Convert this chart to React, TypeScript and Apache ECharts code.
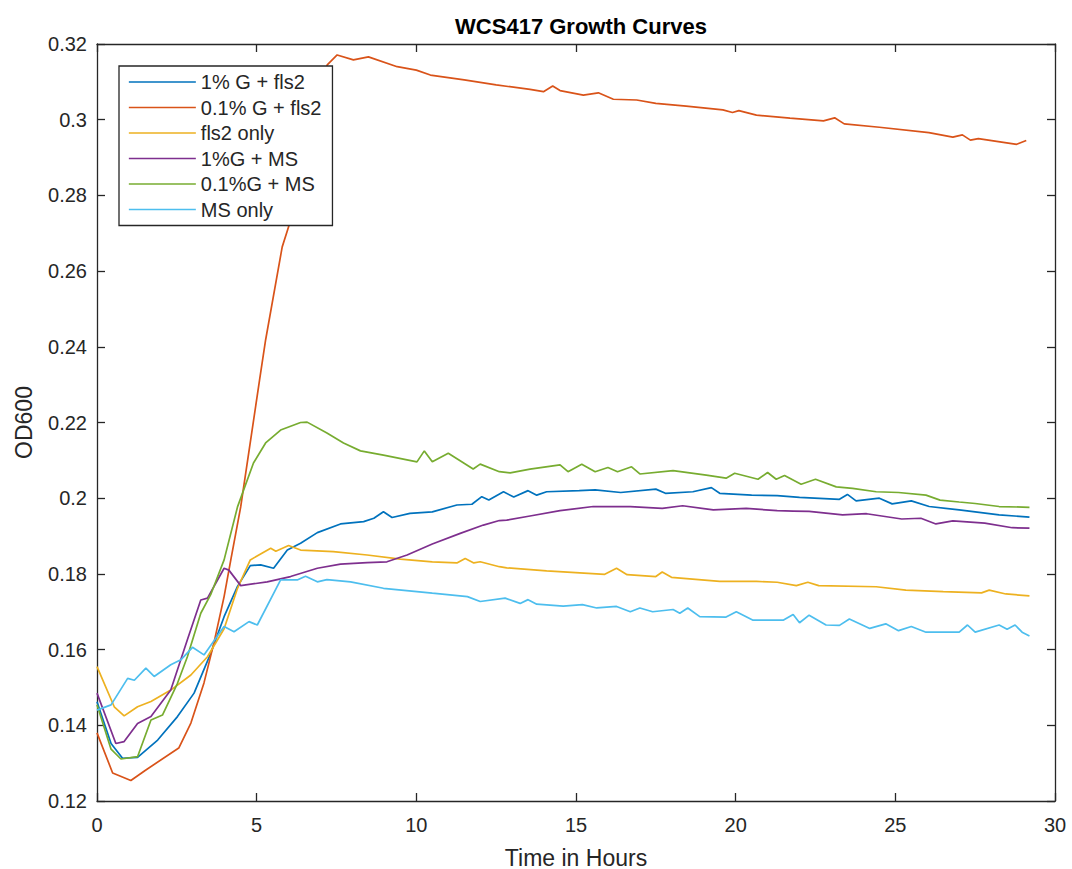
import React, { useEffect, useRef } from "react";
import * as echarts from "echarts";

const SERIES_NAMES = ["1% G + fls2", "0.1% G + fls2", "fls2 only", "1%G + MS", "0.1%G + MS", "MS only"];
const COLORS = ["#0072BD", "#D95319", "#EDB120", "#7E2F8E", "#77AC30", "#4DBEEE"];

const X_MIN = 0, X_MAX = 30, X_STEP = 5;
const Y_MIN = 0.12, Y_MAX = 0.32, Y_STEP = 0.02;

const g1Fls2: [number, number][] = [
  [0, 0.1462], [0.44, 0.1352], [0.8, 0.1313], [1.27, 0.1315], [1.9, 0.1361], [2.52, 0.1423], [3.04, 0.1485],
  [3.56, 0.159], [3.98, 0.1687], [4.4, 0.1767], [4.8, 0.1822], [5.125, 0.1824], [5.53, 0.1815], [5.96, 0.1863],
  [6.375, 0.1881], [6.9, 0.1909], [7.625, 0.1932], [8.35, 0.1938], [8.67, 0.1947], [8.97, 0.1964], [9.24, 0.1949],
  [9.8, 0.196], [10.5, 0.1964], [11.27, 0.1982], [11.74, 0.1984], [12.05, 0.2004], [12.27, 0.1995], [12.73, 0.2017],
  [13.05, 0.2003], [13.5, 0.202], [13.77, 0.2008], [14.08, 0.2017], [15.1, 0.202], [15.6, 0.2022], [16.4, 0.2015],
  [17.5, 0.2024], [17.8, 0.2013], [18.66, 0.2017], [19.24, 0.2028], [19.5, 0.2013], [20.5, 0.2008], [21.3, 0.2007],
  [22.0, 0.2002], [23.25, 0.1997], [23.5, 0.201], [23.77, 0.1993], [24.5, 0.2], [24.9, 0.1985], [25.5, 0.1993],
  [26.06, 0.1978], [27, 0.1969], [28.25, 0.1956], [29.2, 0.195],
];

const g01Fls2: [number, number][] = [
  [0, 0.138], [0.49, 0.1274], [1.06, 0.1254], [1.53, 0.1282], [2.56, 0.134], [2.94, 0.1406], [3.35, 0.1512],
  [3.66, 0.1617], [3.98, 0.174], [4.19, 0.1837], [4.5, 0.1977], [5.09, 0.2312], [5.28, 0.2418], [5.8, 0.2664],
  [6.0, 0.2717], [6.5, 0.292], [7.0, 0.308], [7.21, 0.3145], [7.52, 0.3171], [8.03, 0.3158], [8.5, 0.3166],
  [9.4, 0.314], [10.0, 0.3131], [10.44, 0.3118], [11.5, 0.3105], [12.5, 0.3092], [13.56, 0.308], [13.98, 0.3074],
  [14.27, 0.3089], [14.5, 0.3077], [15.23, 0.3065], [15.7, 0.3071], [16.17, 0.3054], [16.9, 0.3052], [17.5, 0.3043],
  [18.45, 0.3036], [19.6, 0.3026], [19.9, 0.3019], [20.1, 0.3024], [20.65, 0.3012], [21.7, 0.3004], [22.75, 0.2997],
  [23.1, 0.3005], [23.4, 0.2989], [24.5, 0.298], [26.05, 0.2966], [26.8, 0.2954], [27.1, 0.296], [27.35, 0.2946],
  [27.6, 0.295], [28.8, 0.2935], [29.1, 0.2945],
];

const fls2Only: [number, number][] = [
  [0, 0.1555], [0.54, 0.1449], [0.85, 0.1425], [1.27, 0.1449], [1.69, 0.1463], [2.31, 0.1493], [2.94, 0.1533],
  [3.46, 0.1581], [3.98, 0.1655], [4.4, 0.1762], [4.8, 0.1837], [5.44, 0.1868], [5.6, 0.186], [6.0, 0.1875],
  [6.375, 0.1863], [7.4, 0.1859], [8.46, 0.185], [9.5, 0.1839], [10.5, 0.1832], [11.27, 0.1829], [11.53, 0.1841],
  [11.8, 0.1829], [12, 0.1832], [12.6, 0.1819], [12.83, 0.1816], [14.08, 0.1808], [15.9, 0.1799], [16.27, 0.1815],
  [16.6, 0.1798], [17.5, 0.1793], [17.7, 0.1805], [17.99, 0.1791], [19.5, 0.178], [20.65, 0.178], [21.3, 0.1778],
  [21.9, 0.1769], [22.26, 0.1778], [22.6, 0.1769], [24.4, 0.1766], [25.33, 0.1757], [26.5, 0.1753], [27.7, 0.175],
  [27.94, 0.1757], [28.46, 0.1747], [29.2, 0.1742],
];

const g1Ms: [number, number][] = [
  [0, 0.1485], [0.59, 0.1352], [0.85, 0.1357], [1.27, 0.1405], [1.69, 0.1423], [2.31, 0.1493], [2.83, 0.1626],
  [3.25, 0.1731], [3.46, 0.1736], [3.98, 0.1815], [4.13, 0.181], [4.5, 0.1769], [5.33, 0.1779], [6.06, 0.1793],
  [6.9, 0.1815], [7.625, 0.1826], [8.46, 0.183], [9.08, 0.1832], [9.71, 0.185], [10.5, 0.1879], [11.375, 0.1907],
  [12.1, 0.1929], [12.6, 0.1941], [12.83, 0.1942], [13.56, 0.1953], [14.5, 0.1967], [15.54, 0.1978], [16.7, 0.1978],
  [17.7, 0.1973], [18.34, 0.198], [19.3, 0.1969], [20.33, 0.1973], [21.3, 0.1967], [21.8, 0.1966], [22.3, 0.1965],
  [23.35, 0.1956], [24.1, 0.1959], [25.2, 0.1945], [25.8, 0.1947], [26.27, 0.1932], [26.8, 0.194], [27.8, 0.1934],
  [28.66, 0.1922], [29.2, 0.1921],
];

const g01Ms: [number, number][] = [
  [0, 0.1454], [0.44, 0.1337], [0.75, 0.1311], [1.27, 0.1317], [1.69, 0.1414], [2.05, 0.1427], [2.52, 0.1511],
  [2.83, 0.1581], [3.25, 0.1696], [3.56, 0.1745], [3.98, 0.1837], [4.4, 0.1977], [4.9, 0.2093], [5.28, 0.2146],
  [5.75, 0.218], [6.375, 0.22], [6.58, 0.2201], [7.2, 0.2172], [7.72, 0.2146], [8.25, 0.2125], [8.97, 0.2114],
  [10.02, 0.2096], [10.25, 0.2125], [10.5, 0.2096], [11.0, 0.2119], [11.78, 0.2077], [12.0, 0.209], [12.6, 0.207],
  [12.94, 0.2067], [13.56, 0.2077], [14.5, 0.2088], [14.75, 0.207], [15.18, 0.209], [15.6, 0.207], [16.0, 0.2081],
  [16.3, 0.207], [16.74, 0.2083], [17, 0.2064], [18.04, 0.2073], [19.08, 0.2061], [19.7, 0.2053], [19.97, 0.2066],
  [20.7, 0.205], [21.0, 0.2068], [21.27, 0.205], [21.53, 0.206], [22.05, 0.2037], [22.5, 0.205], [23.15, 0.203],
  [23.66, 0.2026], [24.4, 0.2017], [25.1, 0.2015], [25.96, 0.2008], [26.4, 0.1995], [27, 0.199], [27.5, 0.1986],
  [28.25, 0.1978], [29.2, 0.1976],
];

const msOnly: [number, number][] = [
  [0, 0.144], [0.44, 0.1454], [0.96, 0.1524], [1.17, 0.1519], [1.53, 0.1551], [1.79, 0.1529], [2.31, 0.156],
  [2.625, 0.1573], [2.99, 0.1606], [3.35, 0.1586], [3.98, 0.1661], [4.29, 0.1647], [4.76, 0.1674], [5.02, 0.1665],
  [5.75, 0.1784], [6.27, 0.1784], [6.53, 0.1794], [6.9, 0.1779], [7.2, 0.1785], [7.94, 0.1779], [8.97, 0.1762],
  [10.5, 0.1749], [11.6, 0.174], [12, 0.1727], [12.78, 0.1736], [13.25, 0.1722], [13.5, 0.1732], [13.77, 0.172],
  [14.6, 0.1715], [15.2, 0.1719], [15.65, 0.171], [16.27, 0.1714], [16.7, 0.17], [17, 0.171], [17.4, 0.17],
  [18.04, 0.1706], [18.25, 0.1696], [18.5, 0.171], [18.875, 0.1687], [19.7, 0.1686], [20.02, 0.17], [20.53, 0.1678],
  [21.5, 0.1678], [21.8, 0.1693], [22, 0.1671], [22.3, 0.1691], [22.83, 0.1665], [23.25, 0.1664], [23.56, 0.1681],
  [24.2, 0.1656], [24.7, 0.1668], [25.1, 0.165], [25.5, 0.1661], [25.96, 0.1646], [27, 0.1646], [27.26, 0.1665],
  [27.5, 0.1646], [28.25, 0.1665], [28.5, 0.1654], [28.75, 0.1665], [28.97, 0.1646], [29.2, 0.1636],
];

const SERIES_DATA = [g1Fls2, g01Fls2, fls2Only, g1Ms, g01Ms, msOnly];

const FONT = "'Liberation Sans', Arial, Helvetica, sans-serif";
const AXIS_COLOR = "#262626";

export default function App() {
  const ref = useRef<HTMLDivElement>(null);
  useEffect(() => {
    const chart = echarts.init(ref.current!, null, { renderer: "svg" });
    const tickCommon = {
      axisLine: { show: true, onZero: false, lineStyle: { color: AXIS_COLOR, width: 1.3 } },
      axisTick: { show: true, inside: true, length: 8, lineStyle: { color: AXIS_COLOR, width: 1.3 } },
      splitLine: { show: false },
    };
    chart.setOption({
      animation: false,
      backgroundColor: "#ffffff",
      textStyle: { fontFamily: FONT },
      title: {
        text: "WCS417 Growth Curves",
        left: 576,
        textAlign: "center",
        top: 10,
        textStyle: { fontSize: 22, fontWeight: "bold", color: "#000000", fontFamily: FONT },
      },
      grid: { left: 97, right: 17, top: 44, bottom: 68, containLabel: false, outerBoundsMode: "none" },
      legend: {
        orient: "vertical",
        left: 119,
        top: 66,
        data: SERIES_NAMES,
        itemWidth: 67,
        itemHeight: 20,
        itemGap: 5.5,
        padding: [6, 11, 6, 9],
        borderColor: AXIS_COLOR,
        borderWidth: 1.3,
        backgroundColor: "#ffffff",
        selectedMode: false,
        itemStyle: { opacity: 0, borderWidth: 0 },
        lineStyle: { width: 1.7 },
        textStyle: { fontSize: 20, color: AXIS_COLOR, fontFamily: FONT, lineHeight: 20, padding: [0, 0, 0, 0] },
      },
      xAxis: [
        {
          type: "value",
          position: "bottom",
          min: X_MIN,
          max: X_MAX,
          interval: X_STEP,
          name: "Time in Hours",
          nameLocation: "middle",
          nameGap: 45,
          nameTextStyle: { fontSize: 23, color: AXIS_COLOR, fontFamily: FONT },
          axisLabel: { show: true, margin: 14, fontSize: 20, color: AXIS_COLOR, fontFamily: FONT },
          ...tickCommon,
        },
        {
          type: "value",
          position: "top",
          min: X_MIN,
          max: X_MAX,
          interval: X_STEP,
          axisLabel: { show: false },
          ...tickCommon,
        },
      ],
      yAxis: [
        {
          type: "value",
          position: "left",
          min: Y_MIN,
          max: Y_MAX,
          interval: Y_STEP,
          name: "OD600",
          nameLocation: "middle",
          nameGap: 62,
          nameTextStyle: { fontSize: 23, color: AXIS_COLOR, fontFamily: FONT },
          axisLabel: {
            show: true,
            margin: 10,
            fontSize: 20,
            color: AXIS_COLOR,
            fontFamily: FONT,
            formatter: (v: number) => String(+v.toFixed(2)),
          },
          ...tickCommon,
        },
        {
          type: "value",
          position: "right",
          min: Y_MIN,
          max: Y_MAX,
          interval: Y_STEP,
          axisLabel: { show: false },
          ...tickCommon,
        },
      ],
      series: SERIES_NAMES.map((name, i) => ({
        name,
        type: "line",
        xAxisIndex: 0,
        yAxisIndex: 0,
        data: SERIES_DATA[i],
        symbol: "none",
        showSymbol: false,
        smooth: false,
        color: COLORS[i],
        lineStyle: { color: COLORS[i], width: 1.7 },
      })),
    });
    return () => chart.dispose();
  }, []);
  return <div ref={ref} style={{ position: "absolute", left: 0, top: 0, width: 1072, height: 869 }} />;
}
